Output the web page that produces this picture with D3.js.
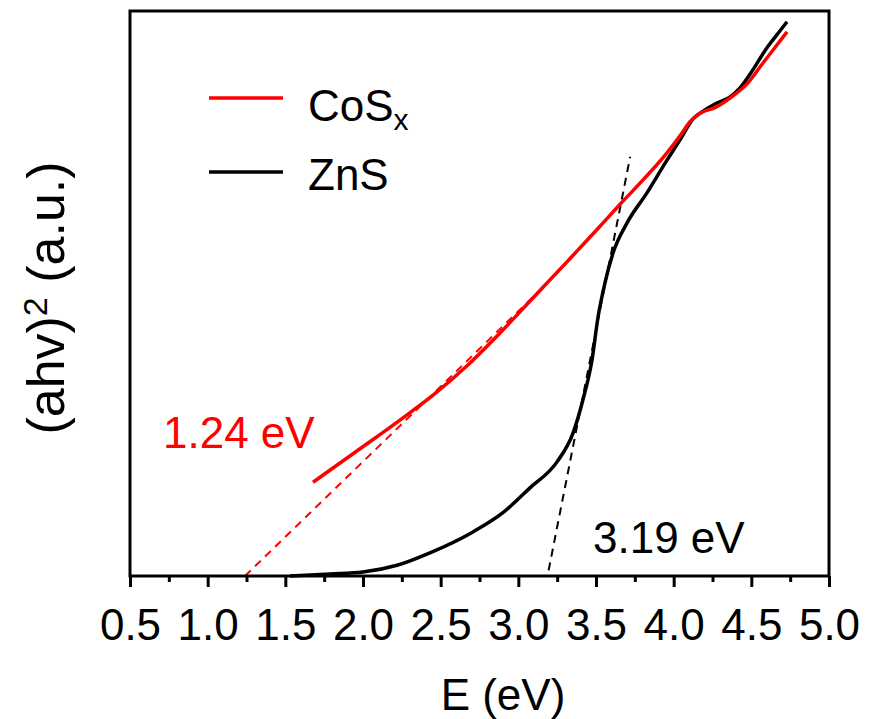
<!DOCTYPE html>
<html>
<head>
<meta charset="utf-8">
<script src="https://cdn.jsdelivr.net/npm/d3@7"></script>
<style>
  html, body { margin: 0; padding: 0; background: #fff; }
  svg { display: block; }
  text { font-family: "Liberation Sans", Arial, sans-serif; }
</style>
</head>
<body>
<svg id="chart" width="870" height="719"></svg>
<script>
// ---- data ----
const cosxE = [1.678, 1.852, 2.026, 2.238, 2.451, 2.670, 2.882, 3.094, 3.313, 3.526, 3.655, 3.803, 3.957, 4.041, 4.105, 4.170, 4.266, 4.363, 4.472, 4.575, 4.685, 4.730];
const cosxY = [16.6, 20.0, 23.4, 27.6, 32.0, 37.2, 43.0, 49.2, 55.6, 61.9, 65.8, 70.1, 74.9, 77.9, 80.4, 81.9, 82.9, 84.6, 87.1, 90.8, 94.7, 96.3];

const znsE = [1.530, 1.788, 2.000, 2.219, 2.431, 2.708, 2.901, 3.075, 3.249, 3.352, 3.416, 3.474, 3.513, 3.558, 3.610, 3.700, 3.828, 3.957, 4.041, 4.125, 4.202, 4.285, 4.363, 4.427, 4.491, 4.601, 4.685, 4.730];
const znsY = [0.0, 0.35, 0.7, 1.9, 4.1, 7.8, 11.2, 15.6, 20.2, 25.3, 31.2, 38.2, 45.8, 51.9, 57.2, 62.5, 67.8, 73.6, 77.2, 80.9, 82.5, 83.8, 84.8, 86.4, 88.8, 93.5, 96.5, 98.1];

// tangent (band-gap) fit lines
const cosxFitE = [1.24, 3.14];
const cosxFitY = [0, 50.6];
const znsFitE = [3.195, 3.72];
const znsFitY = [1.0, 74.2];

const xTicks = [0.5, 1.0, 1.5, 2.0, 2.5, 3.0, 3.5, 4.0, 4.5, 5.0];
const xMinorTicks = [0.75, 1.25, 1.75, 2.25, 2.75, 3.25, 3.75, 4.25, 4.75];

const seriesNames = ["CoS", "ZnS"];
const seriesColors = ["#ff0000", "#000000"];
const gapLabels = ["1.24 eV", "3.19 eV"];

// ---- layout ----
const svg = d3.select("#chart");
const L = 130, R = 829, T = 11, B = 576;
const x = d3.scaleLinear().domain([0.5, 5.0]).range([L, R]);
const y = d3.scaleLinear().domain([0, 100]).range([B, T]);

const line = d3.line().x(d => x(d[0])).y(d => y(d[1])).curve(d3.curveMonotoneX);
const straight = d3.line().x(d => x(d[0])).y(d => y(d[1]));

const cosx = cosxE.map((e, i) => [e, cosxY[i]]);
const zns = znsE.map((e, i) => [e, znsY[i]]);

// fit lines
svg.append("path").datum(cosxFitE.map((e, i) => [e, cosxFitY[i]]))
  .attr("d", straight).attr("fill", "none").attr("stroke", seriesColors[0])
  .attr("stroke-width", 2).attr("stroke-dasharray", "8,6");
svg.append("path").datum(znsFitE.map((e, i) => [e, znsFitY[i]]))
  .attr("d", straight).attr("fill", "none").attr("stroke", seriesColors[1])
  .attr("stroke-width", 2).attr("stroke-dasharray", "8,6");

// curves
svg.append("path").datum(zns).attr("d", line).attr("fill", "none")
  .attr("stroke", seriesColors[1]).attr("stroke-width", 3.5).attr("stroke-linejoin", "round");
svg.append("path").datum(cosx).attr("d", line).attr("fill", "none")
  .attr("stroke", seriesColors[0]).attr("stroke-width", 3.5).attr("stroke-linejoin", "round");

// frame
svg.append("rect").attr("x", L).attr("y", T).attr("width", R - L).attr("height", B - T)
  .attr("fill", "none").attr("stroke", "#000").attr("stroke-width", 3);

// x axis
const gx = svg.append("g").attr("transform", `translate(0,${B})`);
gx.call(d3.axisBottom(x).tickValues(xTicks).tickSize(11).tickPadding(22).tickFormat(d3.format(".1f")));
gx.select(".domain").remove();
gx.selectAll(".tick line").attr("stroke-width", 3);
gx.selectAll(".tick text").attr("font-size", 44).attr("font-family", "Liberation Sans, Arial, sans-serif").attr("fill", "#000");
const gxm = svg.append("g").attr("transform", `translate(0,${B})`);
gxm.call(d3.axisBottom(x).tickValues(xMinorTicks).tickSize(6).tickFormat(""));
gxm.select(".domain").remove();
gxm.selectAll(".tick line").attr("stroke-width", 3);

// axis titles
svg.append("text").attr("x", 503).attr("y", 710).attr("text-anchor", "middle")
  .attr("font-size", 44).text("E (eV)");
const yt = svg.append("text").attr("transform", "translate(64,298) rotate(-90)")
  .attr("text-anchor", "middle").attr("font-size", 52);
yt.append("tspan").text("(ahv)");
yt.append("tspan").attr("font-size", 34).attr("dy", -17).text("2");
yt.append("tspan").attr("dy", 17).text(" (a.u.)");

// legend
const legY = [98, 172];
const legBase = [121, 190];
seriesNames.forEach((n, i) => {
  svg.append("line").attr("x1", 209).attr("x2", 283).attr("y1", legY[i]).attr("y2", legY[i])
    .attr("stroke", seriesColors[i]).attr("stroke-width", 3.5);
  const t = svg.append("text").attr("x", 308).attr("y", legBase[i]).attr("font-size", 44).attr("fill", "#000");
  t.append("tspan").text(n);
  if (i === 0) t.append("tspan").attr("font-size", 30).attr("dy", 9).text("x");
});

// band gap labels
svg.append("text").attr("x", 163).attr("y", 448).attr("font-size", 44)
  .attr("fill", seriesColors[0]).text(gapLabels[0]);
svg.append("text").attr("x", 593).attr("y", 553).attr("font-size", 44)
  .attr("fill", seriesColors[1]).text(gapLabels[1]);
</script>
</body>
</html>
